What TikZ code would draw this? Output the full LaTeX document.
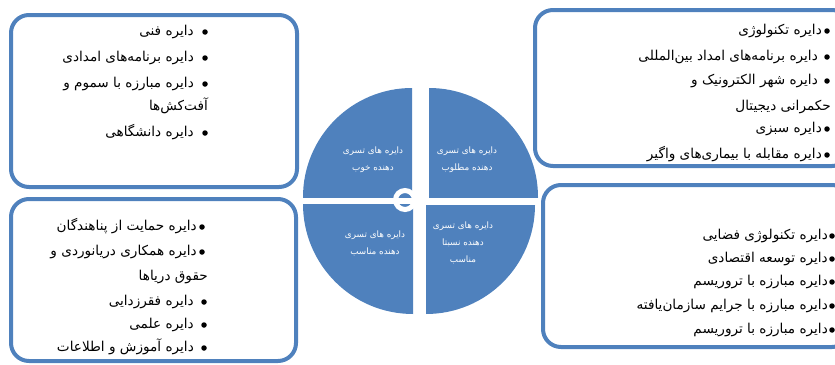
\documentclass[tikz,border=0pt]{standalone}
\usepackage{fontspec}
\newfontfamily\fa[Script=Arabic]{DejaVu Sans}
\TeXXeTstate=1
\definecolor{blu}{HTML}{4F81BD}
\begin{document}
\begin{tikzpicture}[x=1pt,y=-1pt,
  box/.style={draw=blu, line width=4pt, rounded corners=18pt},
  txt/.style={anchor=east, inner sep=0pt, text height=10pt, text depth=3.5pt, font=\fa\fontsize{13.6}{16}\selectfont},
  pl/.style={white, align=center, inner sep=0pt, font=\fa\fontsize{8.8}{17}\selectfont},
  bul/.style={circle, fill=black, inner sep=0pt, minimum size=5.5pt}]
\useasboundingbox (0,0) rectangle (835,364);
\clip (0,0) rectangle (835,364);
% boxes
\draw[box] (11,15) rectangle (297,187);
\draw[box] (11,199) rectangle (296,361);
\draw[box] (535,10) rectangle (850,166);
\draw[box] (543,185) rectangle (850,347);
% pie quadrants
\begin{scope}\clip (300,85) rectangle (412,197);\fill[blu] (412,197) circle (109);\end{scope}
\begin{scope}\clip (429,85) rectangle (545,197);\fill[blu] (429,197) circle (109);\end{scope}
\begin{scope}\clip (300,204) rectangle (413,320);\fill[blu] (413,204) circle (110);\end{scope}
\begin{scope}\clip (426,205) rectangle (545,320);\fill[blu] (426,205) circle (109);\end{scope}
\draw[white, line width=5pt] (405,200) circle (9.5);
% pie labels
\node[pl] (q1) at (373,160) {\beginR دایره های تسری\endR\\\beginR دهنده خوب\endR};
\node[pl] (q2) at (467,160) {\beginR دایره های تسری\endR\\\beginR دهنده مطلوب\endR};
\node[pl] (q3) at (375,243) {\beginR دایره های تسری\endR\\\beginR دهنده مناسب\endR};
\node[pl] (q4) at (463,243) {\beginR دایره های تسری\endR\\\beginR دهنده نسبتا\endR\\\beginR مناسب\endR};
% TL list
\node[bul] (b11) at (205,32) {};
\node[txt] (t11) at (194,32) {\beginR دایره فنی\endR};
\node[bul] (b12) at (205,58) {};
\node[txt] (t12) at (194,58) {\beginR دایره برنامه‌های امدادی\endR};
\node[bul] (b13) at (205,84) {};
\node[txt] (t13) at (194,84) {\beginR دایره مبارزه با سموم و\endR};
\node[txt] (t14) at (208,107) {\beginR آفت‌کش‌ها\endR};
\node[bul] (b15) at (205,133) {};
\node[txt] (t15) at (194,133) {\beginR دایره دانشگاهی\endR};
% TR list
\node[bul] (b21) at (827,31) {};
\node[txt] (t21) at (822,31) {\beginR دایره تکنولوژی\endR};
\node[bul] (b22) at (827,57) {};
\node[txt] (t22) at (818,57) {\beginR دایره برنامه‌های امداد بین‌المللی\endR};
\node[bul] (b23) at (827,81) {};
\node[txt] (t23) at (818,81) {\beginR دایره شهر الکترونیک و\endR};
\node[txt] (t24) at (831,107) {\beginR حکمرانی دیجیتال\endR};
\node[bul] (b25) at (827,129) {};
\node[txt] (t25) at (822,129) {\beginR دایره سبزی\endR};
\node[bul] (b26) at (827,155) {};
\node[txt] (t26) at (822,155) {\beginR دایره مقابله با بیماری‌های واگیر\endR};
% BR list
\node[bul] (b31) at (832,236) {};
\node[txt] (t31) at (828,236) {\beginR دایره تکنولوژی فضایی\endR};
\node[bul] (b32) at (832,259) {};
\node[txt] (t32) at (828,259) {\beginR دایره توسعه اقتصادی\endR};
\node[bul] (b33) at (832,282) {};
\node[txt] (t33) at (828,282) {\beginR دایره مبارزه با تروریسم\endR};
\node[bul] (b34) at (832,306) {};
\node[txt] (t34) at (828,306) {\beginR دایره مبارزه با جرایم سازمان‌یافته\endR};
\node[bul] (b35) at (832,330) {};
\node[txt] (t35) at (828,330) {\beginR دایره مبارزه با تروریسم\endR};
% BL list
\node[bul] (b41) at (202,227) {};
\node[txt] (t41) at (197,227) {\beginR دایره حمایت از پناهندگان\endR};
\node[bul] (b42) at (202,252) {};
\node[txt] (t42) at (197,252) {\beginR دایره همکاری دریانوردی و\endR};
\node[txt] (t43) at (208,277) {\beginR حقوق دریاها\endR};
\node[bul] (b44) at (204,302) {};
\node[txt] (t44) at (194,302) {\beginR دایره فقرزدایی\endR};
\node[bul] (b45) at (204,325) {};
\node[txt] (t45) at (194,325) {\beginR دایره علمی\endR};
\node[bul] (b46) at (204,348) {};
\node[txt] (t46) at (194,348) {\beginR دایره آموزش و اطلاعات\endR};
\end{tikzpicture}
\end{document}
